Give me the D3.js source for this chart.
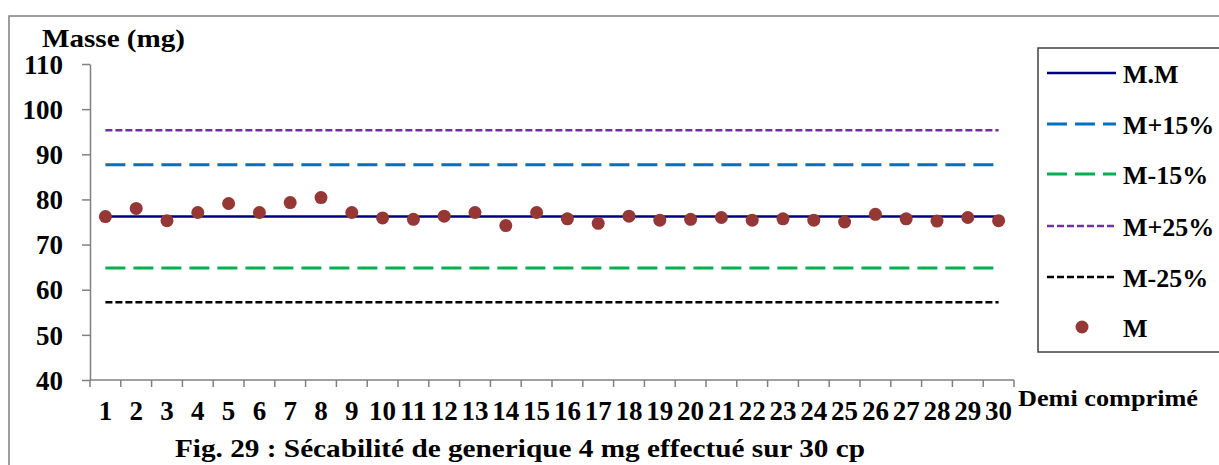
<!DOCTYPE html>
<html>
<head>
<meta charset="utf-8">
<script src="https://cdn.jsdelivr.net/npm/d3@7"></script>
<style>
  html, body { margin: 0; padding: 0; background: #fff; }
  svg { display: block; }
  text { font-family: "Liberation Serif", "Times New Roman", serif; font-weight: bold; fill: #000; }
</style>
</head>
<body>
<svg id="chart" width="1219" height="465"></svg>
<script>
// ---- data ----
const categories = ["1","2","3","4","5","6","7","8","9","10","11","12","13","14","15","16","17","18","19","20","21","22","23","24","25","26","27","28","29","30"];
const masses = [76.2,78.0,75.3,77.1,79.1,77.1,79.3,80.4,77.1,75.9,75.6,76.3,77.1,74.2,77.1,75.7,74.7,76.3,75.4,75.6,76.0,75.4,75.7,75.4,75.0,76.7,75.7,75.2,76.0,75.3];
const refNames = ["M.M","M+15%","M-15%","M+25%","M-25%"];
const refValues = [76.2, 87.7, 64.8, 95.3, 57.2];
const yTicks = [40,50,60,70,80,90,100,110];
const pointName = "M";
const titleText = "Fig. 29 : Sécabilité de generique 4 mg effectué sur 30 cp";
const yTitle = "Masse (mg)";
const xTitle = "Demi comprimé";

// ---- styles ----
const refStyles = [
  {color:"#000080", width:2.5, dash:null},
  {color:"#0070C0", width:3, dash:"20,8"},
  {color:"#00B050", width:3, dash:"20,8"},
  {color:"#7030A0", width:2.5, dash:"7,3"},
  {color:"#000000", width:2.5, dash:"7,3"}
];
const pointColor = "#953735";
const axisColor = "#808080";
const serif = '"Liberation Serif", "Times New Roman", serif';

const svg = d3.select("#chart");

// outer border
svg.append("rect").attr("x",9).attr("y",16).attr("width",1240).attr("height",500)
  .attr("fill","none").attr("stroke","#7f7f7f").attr("stroke-width",1.5);

const plot = {left:90, right:1014, top:64, bottom:380};
const x = d3.scaleBand().domain(categories).range([plot.left, plot.right]).padding(0);
const y = d3.scaleLinear().domain([40,110]).range([plot.bottom, plot.top]);
const cx = c => x(c) + x.bandwidth()/2;

// y axis
const yAxis = svg.append("g").attr("transform",`translate(${plot.left},0)`)
  .call(d3.axisLeft(y).tickValues(yTicks).tickSize(8).tickPadding(19).tickSizeOuter(0));
yAxis.attr("font-family", serif).attr("font-size", null);
yAxis.select(".domain").attr("stroke",axisColor).attr("stroke-width",1.5);
yAxis.selectAll(".tick line").attr("stroke",axisColor).attr("stroke-width",1.5);
yAxis.selectAll(".tick text").attr("font-size",27).attr("font-family",serif).attr("fill","#000").attr("dy","0.34em");

// x axis line and boundary ticks
const xg = svg.append("g");
xg.append("line").attr("x1",plot.left).attr("x2",plot.right).attr("y1",plot.bottom).attr("y2",plot.bottom)
  .attr("stroke",axisColor).attr("stroke-width",1.5);
const bounds = categories.map(c => x(c)).concat([x(categories[categories.length-1]) + x.bandwidth()]);
xg.selectAll("line.b").data(bounds).enter().append("line").attr("class","b")
  .attr("x1",d=>d).attr("x2",d=>d).attr("y1",plot.bottom).attr("y2",plot.bottom+7)
  .attr("stroke",axisColor).attr("stroke-width",1.5);
xg.selectAll("text.xl").data(categories).enter().append("text").attr("class","xl")
  .attr("x",d=>cx(d)).attr("y",420).attr("text-anchor","middle").attr("font-size",27)
  .attr("textLength", d => d.length > 1 ? 27 : null).attr("lengthAdjust","spacingAndGlyphs")
  .text(d=>d);

// reference lines
const x0 = cx(categories[0]), x1 = cx(categories[categories.length-1]);
svg.selectAll("line.ref").data(refValues).enter().append("line").attr("class","ref")
  .attr("x1",x0).attr("x2",x1).attr("y1",d=>y(d)).attr("y2",d=>y(d))
  .attr("stroke",(d,i)=>refStyles[i].color).attr("stroke-width",(d,i)=>refStyles[i].width)
  .attr("stroke-dasharray",(d,i)=>refStyles[i].dash);

// points
svg.selectAll("circle.pt").data(masses).enter().append("circle").attr("class","pt")
  .attr("cx",(d,i)=>cx(categories[i])).attr("cy",d=>y(d)).attr("r",6.5).attr("fill",pointColor);

// axis titles
svg.append("text").attr("x",42).attr("y",47).attr("font-size",25)
  .attr("textLength",143).attr("lengthAdjust","spacingAndGlyphs").text(yTitle);
svg.append("text").attr("x",1018).attr("y",406).attr("font-size",24)
  .attr("textLength",180).attr("lengthAdjust","spacingAndGlyphs").text(xTitle);
svg.append("text").attr("x",175).attr("y",457).attr("font-size",26)
  .attr("textLength",690).attr("lengthAdjust","spacingAndGlyphs").text(titleText);

// legend
svg.append("rect").attr("x",1038).attr("y",48).attr("width",200).attr("height",304)
  .attr("fill","#fff").attr("stroke","#404040").attr("stroke-width",1.5);
const legY = [73, 124, 174, 226, 277, 327];
refNames.forEach((n,i)=>{
  svg.append("line").attr("x1",1047).attr("x2",1116).attr("y1",legY[i]).attr("y2",legY[i])
    .attr("stroke",refStyles[i].color).attr("stroke-width",refStyles[i].width)
    .attr("stroke-dasharray",refStyles[i].dash);
  svg.append("text").attr("x",1123).attr("y",legY[i]+9.5).attr("font-size",26).text(n);
});
svg.append("circle").attr("cx",1082).attr("cy",legY[5]).attr("r",6.5).attr("fill",pointColor);
svg.append("text").attr("x",1123).attr("y",legY[5]+9.5).attr("font-size",26).text(pointName);
</script>
</body>
</html>
